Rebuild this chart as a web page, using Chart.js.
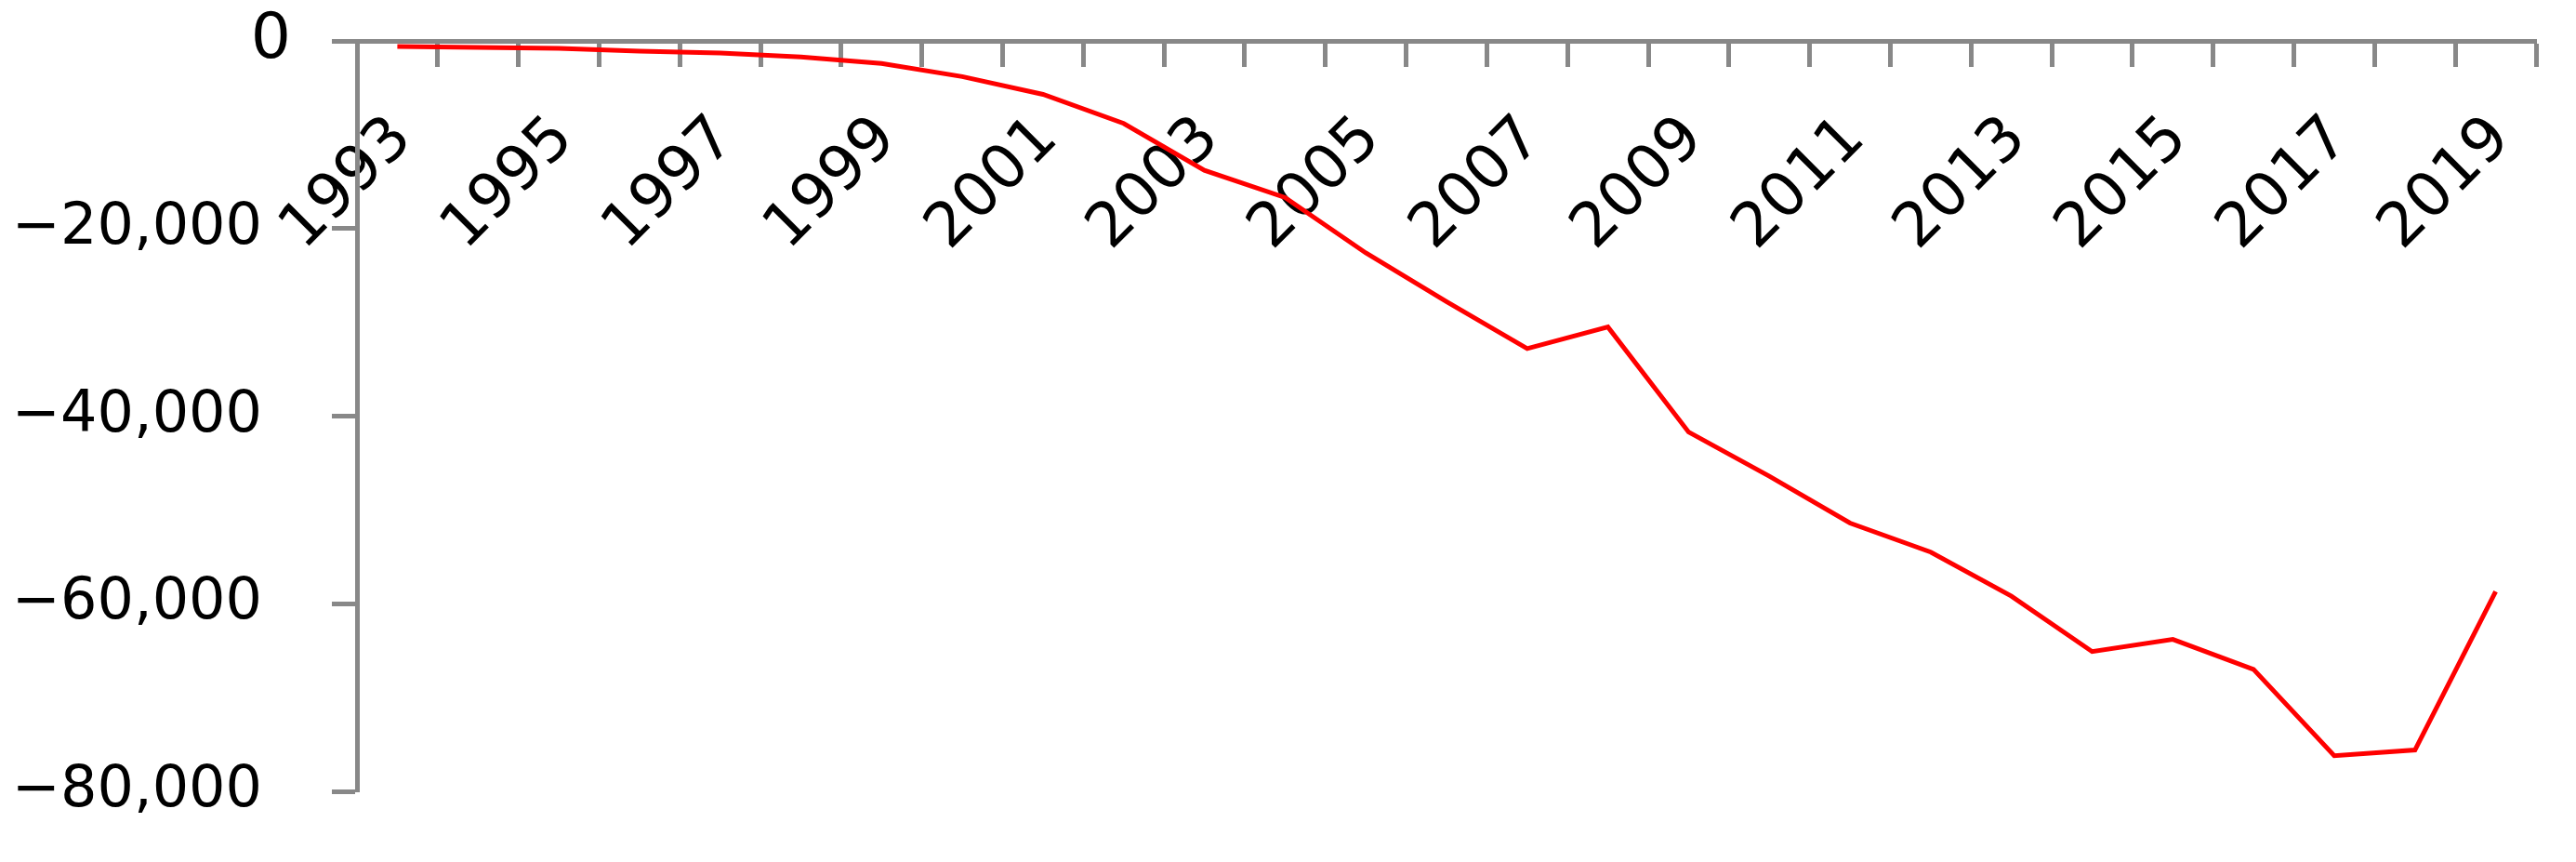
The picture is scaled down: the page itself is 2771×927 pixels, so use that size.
<!DOCTYPE html>
<html lang="en">
<head>
<meta charset="UTF-8">
<title>Balance 1993-2019</title>
<script src="https://cdn.jsdelivr.net/npm/chart.js"></script>
<style>
  * { margin: 0; padding: 0; box-sizing: border-box; }
  body { background: #fff; width: 2771px; height: 927px; overflow: hidden; }
  .chart-box { position: relative; width: 2771px; height: 927px; }
</style>
</head>
<body>
<div class="chart-box">
  <canvas id="chart"></canvas>
</div>
<script>
  // data
  const years = ['1993', '1994', '1995', '1996', '1997', '1998', '1999', '2000', '2001',
    '2002', '2003', '2004', '2005', '2006', '2007', '2008', '2009', '2010', '2011',
    '2012', '2013', '2014', '2015', '2016', '2017', '2018', '2019'];
  const values = [-600, -700, -800, -1100, -1300, -1700, -2400, -3800, -5700,
    -8800, -13800, -16700, -22600, -27800, -32800, -30500, -41700, -46400, -51400,
    -54500, -59200, -65100, -63800, -67000, -76200, -75600, -58700];
  const yTicks = [-80000, -60000, -40000, -20000, 0];

  const axisGray = '#888888';
  const fontFamily = "'DejaVu Sans', sans-serif";

  const fmt = v => v === 0 ? '0' : '\u2212' + Math.abs(v).toLocaleString('en-US') + '\u2002';

  new Chart(document.getElementById('chart'), {
    type: 'line',
    data: {
      labels: years,
      datasets: [{
        data: values,
        borderColor: '#ff0000',
        borderWidth: 5,
        pointRadius: 0,
        tension: 0,
        fill: false
      }]
    },
    options: {
      responsive: true,
      maintainAspectRatio: false,
      animation: false,
      layout: { padding: { left: 0, right: 43, top: 44, bottom: 76 } },
      plugins: { legend: { display: false }, tooltip: { enabled: false } },
      scales: {
        x: {
          type: 'category',
          position: { y: 0 },   // axis sits on the zero line at the top
          offset: true,
          afterFit: s => { s.paddingLeft = 0; s.paddingRight = 0; },
          grid: {
            offset: true,
            drawOnChartArea: false,
            drawTicks: true,
            tickLength: 25,
            tickWidth: 5,
            tickColor: axisGray
          },
          border: { display: true, color: axisGray, width: 5 },
          ticks: {
            autoSkip: false,
            maxRotation: 45,
            minRotation: 45,
            padding: 42,
            labelOffset: 6,
            color: '#000',
            font: { family: fontFamily, size: 66 },
            callback: (v, i) => i % 2 === 0 ? years[i] : ''
          }
        },
        y: {
          min: -80000,
          max: 0,
          afterBuildTicks: s => { s.ticks = yTicks.map(v => ({ value: v })); },
          afterFit: s => { s.width = 384; s.paddingTop = 0; s.paddingBottom = 0; },
          grid: {
            drawOnChartArea: false,
            drawTicks: true,
            tickLength: 27,
            tickWidth: 5,
            tickColor: axisGray
          },
          border: { display: true, color: axisGray, width: 5 },
          ticks: {
            padding: 44,
            color: '#000',
            font: ctx => ({ family: fontFamily, size: ctx.tick && ctx.tick.value === 0 ? 68 : 62 }),
            callback: v => fmt(v)
          }
        }
      }
    }
  });
</script>
</body>
</html>
